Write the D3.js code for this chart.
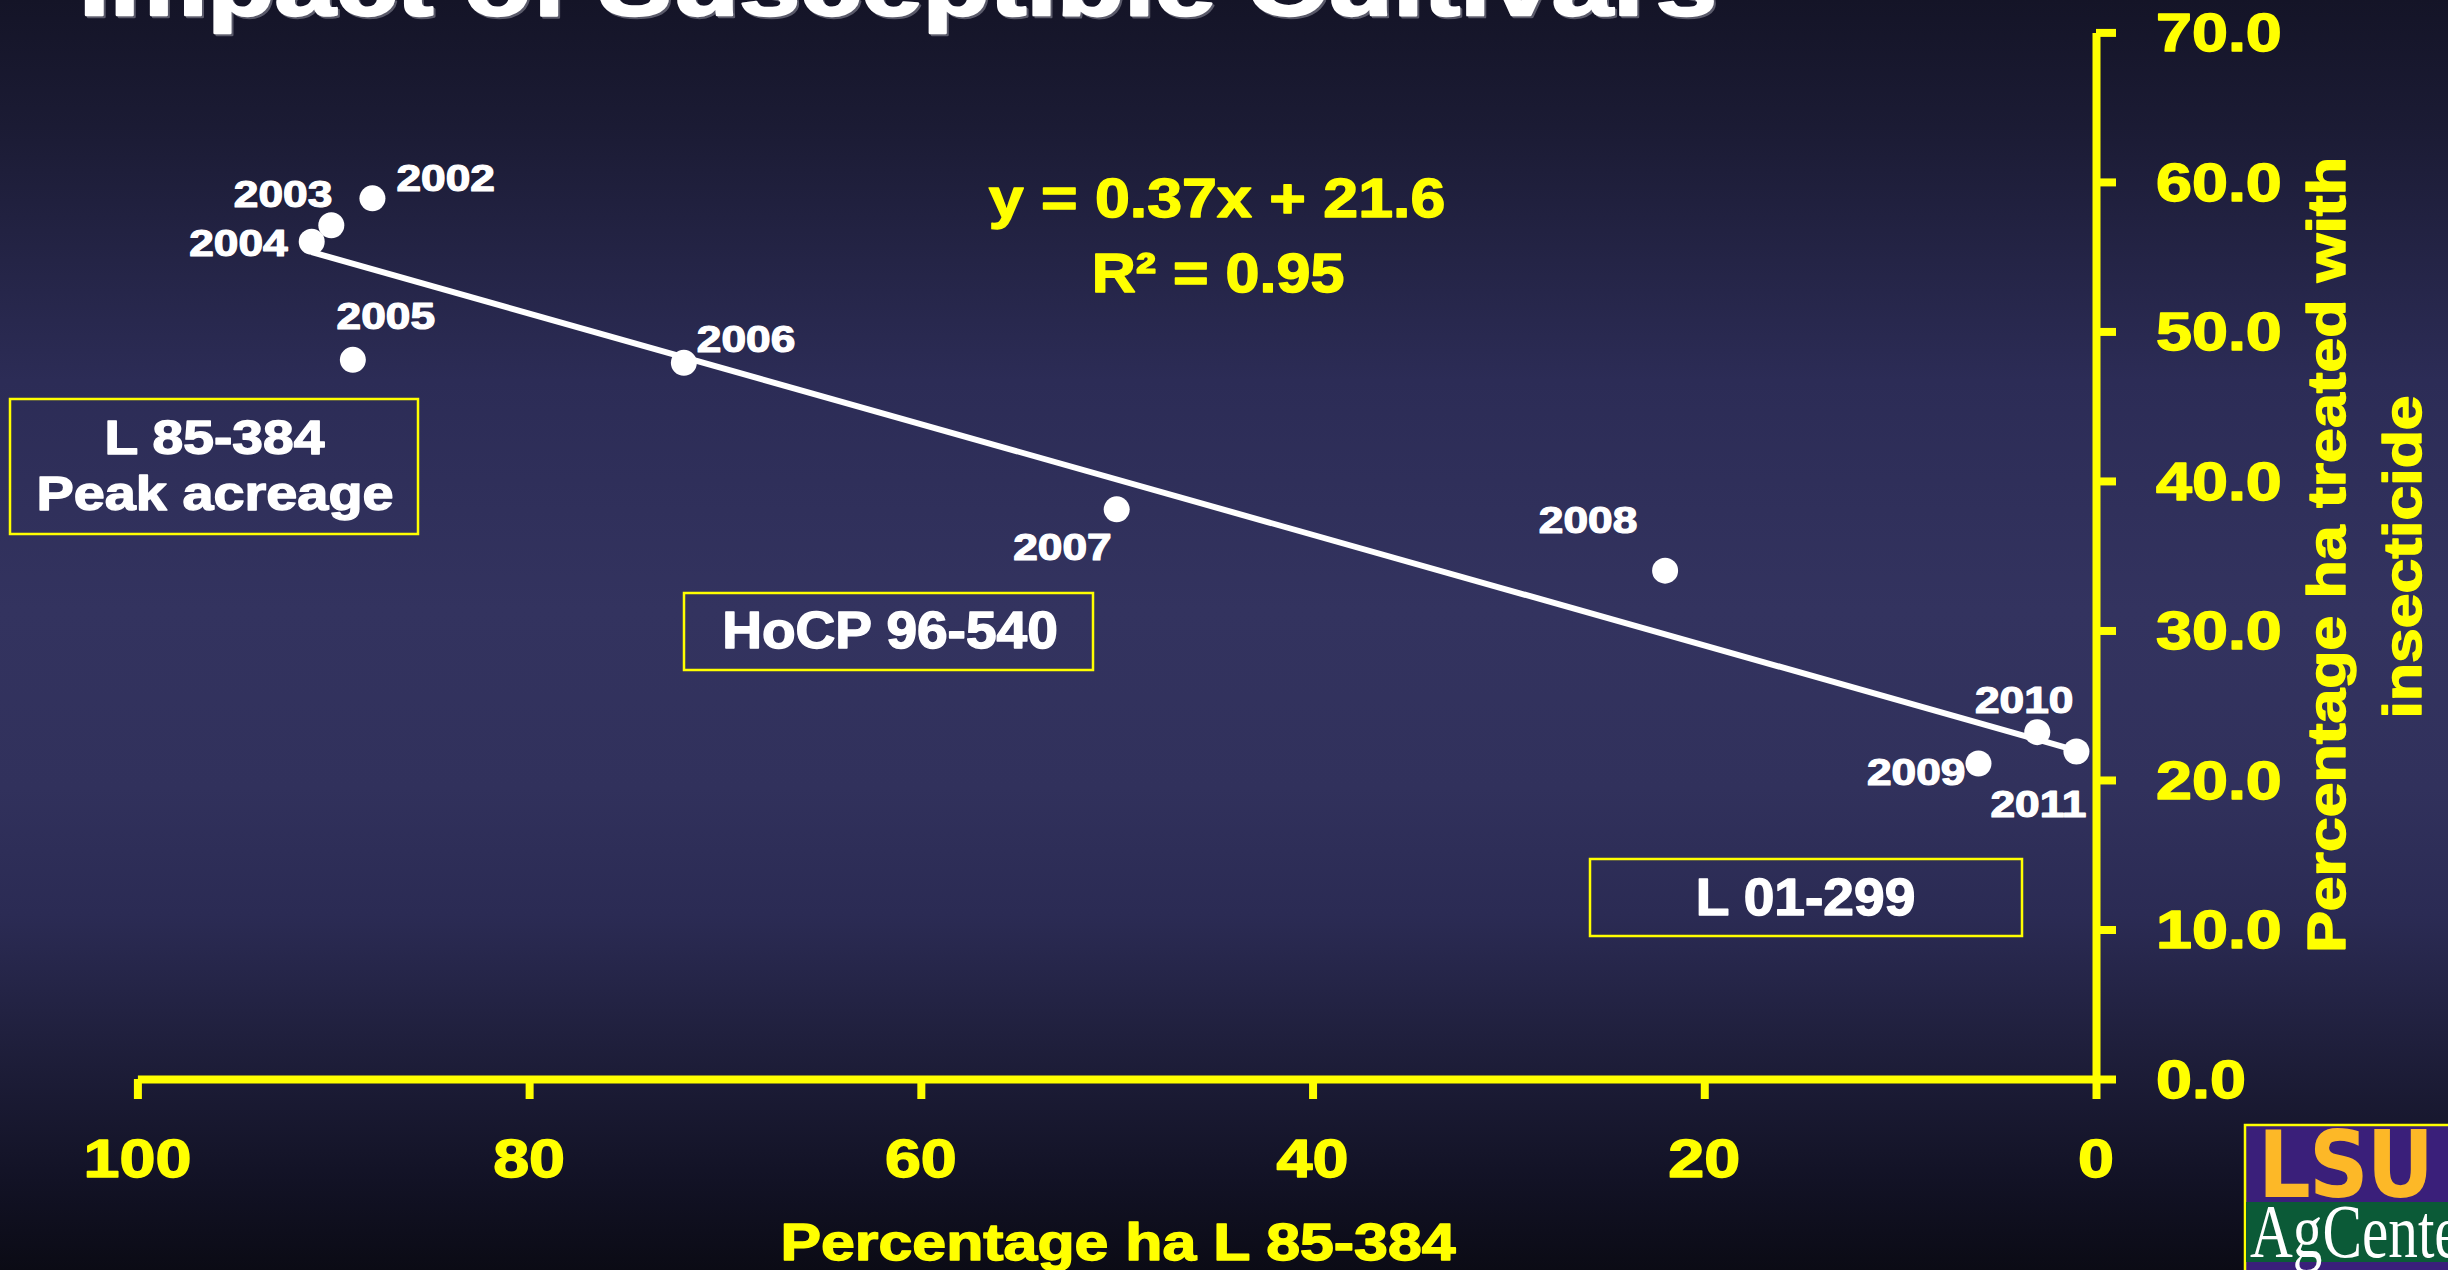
<!DOCTYPE html>
<html>
<head>
<meta charset="utf-8">
<script src="https://cdn.jsdelivr.net/npm/d3@7"></script>
<style>
  html, body { margin: 0; padding: 0; background: #141427; overflow: hidden; }
  svg { display: block; }
</style>
</head>
<body>
<script>
// ---- Data ---------------------------------------------------------------
const years        = [2002, 2003, 2004, 2005, 2006, 2007, 2008, 2009, 2010, 2011];
const pctAreaL85   = [88.0, 90.1, 91.1, 89.0, 72.1, 50.0, 22.0, 6.0, 3.0, 1.0];   // % ha planted to L 85-384
const pctTreated   = [58.9, 57.1, 56.0, 48.1, 47.9, 38.1, 34.0, 21.1, 23.2, 21.9]; // % ha treated with insecticide
const xTickValues  = [100, 80, 60, 40, 20, 0];
const yTickValues  = [0, 10, 20, 30, 40, 50, 60, 70];
const trendSlope     = 0.37;
const trendIntercept = 21.6;
const trendR2        = 0.95;
const cultivarNotes  = [["L 85-384", "Peak acreage"], ["HoCP 96-540"], ["L 01-299"]];

// ---- Layout & style -----------------------------------------------------
const W = 2448, H = 1270;
const YELLOW = "#ffff00", WHITE = "#ffffff";
const FONT = "'Liberation Sans', Arial, Helvetica, sans-serif";

const svg = d3.select("body").append("svg")
  .attr("width", W).attr("height", H)
  .attr("font-family", FONT).attr("font-weight", "bold");

// slide background: dark navy, lighter through the middle
const defs = svg.append("defs");
const bg = defs.append("linearGradient").attr("id", "bg")
  .attr("x1", 0).attr("y1", 0).attr("x2", 0).attr("y2", 1);
[[0, "#141427"], [0.1, "#1b1b34"], [0.3, "#2c2c56"], [0.48, "#33335f"],
 [0.62, "#31315c"], [0.72, "#2b2b54"], [0.83, "#1e1e3a"], [0.93, "#121225"], [1, "#0b0b15"]]
  .forEach(([o, c]) => bg.append("stop").attr("offset", o).attr("stop-color", c));
svg.append("rect").attr("width", W).attr("height", H).attr("fill", "url(#bg)");

// heavy text drawn with a horizontal stretch around its anchor point
function stretchedText(parent, str, x, y, size, k, anchor, fill, rotate, weight = 1.4) {
  return parent.append("text")
    .attr("transform", `translate(${x},${y})` + (rotate ? ` rotate(${rotate})` : "") + ` scale(${k},1)`)
    .attr("text-anchor", anchor)
    .attr("font-size", size)
    .attr("fill", fill)
    .attr("stroke", fill)
    .attr("stroke-width", weight)
    .attr("stroke-linejoin", "round")
    .text(str);
}

// ---- Title (runs off the top edge) ---------------------------------------
const titleText = "Impact of Susceptible Cultivars";
stretchedText(svg, titleText, 81, 17, 88, 1.25, "start", "#5a5a6a", null, 2.4);
stretchedText(svg, titleText, 79, 15, 88, 1.25, "start", WHITE, null, 2.4);

// ---- Scales & axes -------------------------------------------------------
const x = d3.scaleLinear().domain([100, 0]).range([137.4, 2096]);
const y = d3.scaleLinear().domain([0, 70]).range([1079, 32.4]);

const xAxisG = svg.append("g")
  .attr("transform", `translate(0,${y(0)})`)
  .call(d3.axisBottom(x).tickValues(xTickValues).tickSize(20).tickSizeOuter(0).tickFormat(""));
xAxisG.select(".domain").attr("stroke", YELLOW).attr("stroke-width", 8);
xAxisG.selectAll(".tick line").attr("stroke", YELLOW).attr("stroke-width", 8);

const yAxisG = svg.append("g")
  .attr("transform", `translate(${x(0)},0)`)
  .call(d3.axisRight(y).tickValues(yTickValues).tickSize(20).tickSizeOuter(0).tickFormat(""));
yAxisG.select(".domain").attr("stroke", YELLOW).attr("stroke-width", 8);
yAxisG.selectAll(".tick line").attr("stroke", YELLOW).attr("stroke-width", 8);

// tick labels
const xLabelG = svg.append("g");
xTickValues.forEach(v => stretchedText(xLabelG, d3.format("d")(v), x(v), y(0) + 98, 53, 1.22, "middle", YELLOW));
const yLabelG = svg.append("g");
yTickValues.forEach(v => stretchedText(yLabelG, d3.format(".1f")(v), x(0) + 60, y(v) + 19, 53, 1.22, "start", YELLOW));

// axis titles
stretchedText(svg, "Percentage ha L 85-384", 1118, 1260, 52, 1.17, "middle", YELLOW);
stretchedText(svg, "Percentage ha treated with", 2345, 555, 53, 1.18, "middle", YELLOW, -90);
stretchedText(svg, "insecticide", 2421, 557, 53, 1.18, "middle", YELLOW, -90);

// ---- Trend line from the fitted equation ----------------------------------
const xExtent = d3.extent(pctAreaL85);
const trend = xExtent.map(v => [v, trendSlope * v + trendIntercept]);
svg.append("path")
  .attr("d", d3.line().x(d => x(d[0])).y(d => y(d[1]))(trend))
  .attr("stroke", WHITE).attr("stroke-width", 6).attr("fill", "none");

// ---- Points and year labels ----------------------------------------------
const points = years.map((yr, i) => ({ year: yr, xv: pctAreaL85[i], yv: pctTreated[i] }));
svg.append("g").selectAll("circle").data(points).join("circle")
  .attr("cx", d => x(d.xv)).attr("cy", d => y(d.yv)).attr("r", 13)
  .attr("fill", WHITE);

// label offsets relative to each point: [dx, dy, anchor]
const yearLabelPlacement = {
  2002: [24, -7, "start"],
  2003: [1, -18, "end"],
  2004: [-24, 14, "end"],
  2005: [33, -31, "middle"],
  2006: [13, -11, "start"],
  2007: [-5, 51, "end"],
  2008: [-77, -38, "middle"],
  2009: [-13, 21, "end"],
  2010: [-13, -19, "middle"],
  2011: [-38, 65, "middle"]
};
const yearG = svg.append("g");
points.forEach(d => {
  const [dx, dy, anchor] = yearLabelPlacement[d.year];
  stretchedText(yearG, String(d.year), x(d.xv) + dx, y(d.yv) + dy, 36, 1.23, anchor, WHITE, null, 1.2);
});

// ---- Regression annotation -----------------------------------------------
stretchedText(svg, `y = ${trendSlope}x + ${trendIntercept}`, 1217, 217, 56, 1.12, "middle", YELLOW);
stretchedText(svg, `R² = ${trendR2}`, 1218, 292, 56, 1.09, "middle", YELLOW);

// ---- Cultivar callout boxes ------------------------------------------------
const boxLayout = [
  { x0: 10, y0: 399, x1: 418, y1: 534, lines: [[214.5, 454, 48, 1.15], [215, 510, 49, 1.14]] },
  { x0: 684, y0: 593, x1: 1093, y1: 670, lines: [[890, 648, 51, 1.08]] },
  { x0: 1590, y0: 859, x1: 2022, y1: 936, lines: [[1805.5, 915, 52, 1.06]] }
];
const boxG = svg.append("g");
cultivarNotes.forEach((lines, i) => {
  const b = boxLayout[i];
  boxG.append("rect")
    .attr("x", b.x0).attr("y", b.y0).attr("width", b.x1 - b.x0).attr("height", b.y1 - b.y0)
    .attr("fill", "none").attr("stroke", YELLOW).attr("stroke-width", 2.5);
  lines.forEach((txt, j) => {
    const [cx, by, fs, k] = b.lines[j];
    stretchedText(boxG, txt, cx, by, fs, k, "middle", WHITE);
  });
});

// ---- LSU AgCenter badge (bottom right corner) ------------------------------
const logo = svg.append("g");
logo.append("rect").attr("x", 2245).attr("y", 1125).attr("width", 220).attr("height", 160)
  .attr("fill", "#3a1f7a").attr("stroke", YELLOW).attr("stroke-width", 2.5);
logo.append("text")
  .attr("transform", "translate(2258,1197) scale(0.9,1)")
  .attr("font-family", "'DejaVu Sans', sans-serif").attr("font-weight", "bold")
  .attr("font-size", 92).attr("fill", "#fdb827").attr("letter-spacing", -2)
  .text("LSU");
logo.append("rect").attr("x", 2246).attr("y", 1202).attr("width", 210).attr("height", 60)
  .attr("fill", "#0b5a37");
logo.append("text")
  .attr("transform", "translate(2250,1257) scale(0.78,1)")
  .attr("font-family", "'Liberation Serif', 'Times New Roman', serif").attr("font-weight", "normal")
  .attr("font-size", 76).attr("fill", WHITE)
  .text("AgCenter");
</script>
</body>
</html>
